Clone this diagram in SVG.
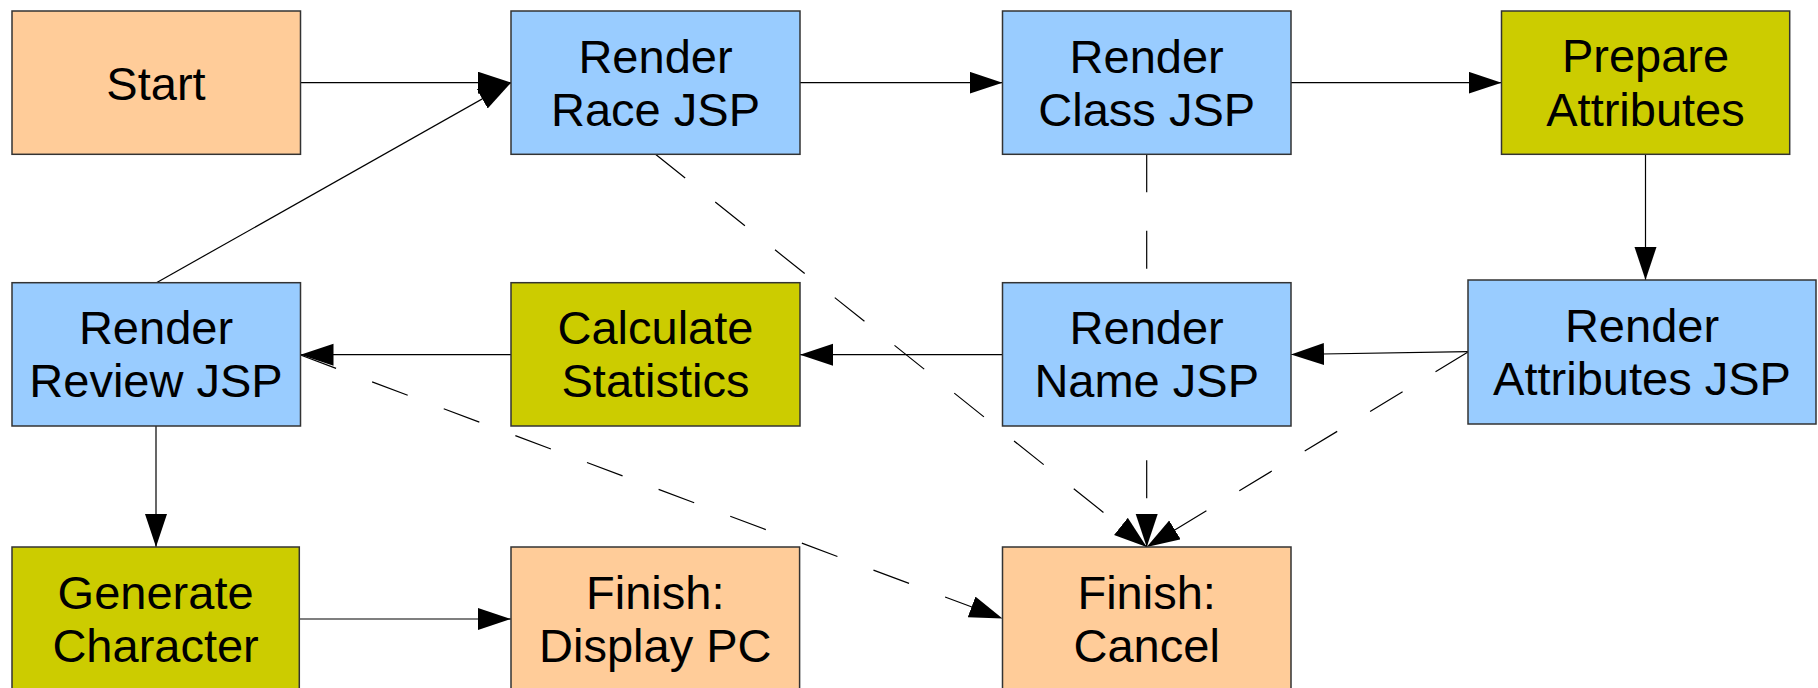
<svg xmlns="http://www.w3.org/2000/svg" width="1818" height="688" viewBox="0 0 1818 688">
<style>
.box{stroke:#333;stroke-width:1.5}
.orange{fill:#ffcc99}
.blue{fill:#99ccff}
.olive{fill:#cccc00}
text{font-family:"Liberation Sans",Arial,sans-serif;font-size:47px;fill:#000;text-anchor:middle}
.c{stroke:#000;stroke-width:1.2;fill:none;marker-end:url(#ah)}
.d{stroke-dasharray:38 38.5}
</style>
<defs>
<marker id="ah" markerUnits="userSpaceOnUse" markerWidth="34" markerHeight="23" refX="33" refY="11" orient="auto">
<path d="M0,0 L33,11 L0,22 z" fill="#000" stroke="none"/>
</marker>
</defs>
<rect width="1818" height="688" fill="#fff"/>
<g id="connectors">
<line class="c" x1="300.5" y1="82.7" x2="511" y2="82.7"/>
<line class="c" x1="800" y1="82.7" x2="1002.5" y2="82.7"/>
<line class="c" x1="1291" y1="82.7" x2="1501.5" y2="82.7"/>
<line class="c" x1="1645.5" y1="154.3" x2="1645.5" y2="280"/>
<line class="c" x1="1468" y1="351.7" x2="1291" y2="354.5"/>
<line class="c" x1="1002.5" y1="354.7" x2="800" y2="354.7"/>
<line class="c" x1="511" y1="354.7" x2="300.5" y2="354.7"/>
<line class="c" x1="156" y1="283" x2="511" y2="82.7"/>
<line class="c" x1="156" y1="426" x2="156" y2="547"/>
<line class="c" x1="299.5" y1="619" x2="511" y2="619"/>
<line class="c d" x1="655.5" y1="154.3" x2="1146.7" y2="547"/>
<line class="c d" x1="1146.7" y1="154.3" x2="1146.7" y2="547"/>
<line class="c d" x1="300.5" y1="355" x2="1002.5" y2="618.5"/>
<line class="c d" x1="1468" y1="352" x2="1146.7" y2="547"/>
</g>
<g id="start"><rect class="box orange" x="12" y="11" width="288.5" height="143.3"/><text x="156" y="99.5">Start</text></g>
<g id="race"><rect class="box blue" x="511" y="11" width="289" height="143.3"/><text x="655.5" y="72.5">Render</text><text x="655.5" y="125.5">Race JSP</text></g>
<g id="class"><rect class="box blue" x="1002.5" y="11" width="288.5" height="143.3"/><text x="1146.7" y="72.5">Render</text><text x="1146.7" y="125.5">Class JSP</text></g>
<g id="prepare"><rect class="box olive" x="1501.5" y="11" width="288.2" height="143.3"/><text x="1645.5" y="72">Prepare</text><text x="1645.5" y="126">Attributes</text></g>
<g id="attributes"><rect class="box blue" x="1468" y="280" width="348" height="144"/><text x="1642" y="341.7">Render</text><text x="1642" y="395">Attributes JSP</text></g>
<g id="name"><rect class="box blue" x="1002.5" y="282.7" width="288.5" height="143.3"/><text x="1146.7" y="344.3">Render</text><text x="1146.7" y="396.7">Name JSP</text></g>
<g id="calc"><rect class="box olive" x="511" y="282.7" width="289" height="143.3"/><text x="655.5" y="344.3">Calculate</text><text x="655.5" y="396.7">Statistics</text></g>
<g id="review"><rect class="box blue" x="12" y="282.7" width="288.5" height="143.3"/><text x="156" y="344.3">Render</text><text x="156" y="396.7">Review JSP</text></g>
<g id="generate"><rect class="box olive" x="12" y="547" width="287.3" height="143.3"/><text x="155.6" y="608.5">Generate</text><text x="155.6" y="662">Character</text></g>
<g id="display"><rect class="box orange" x="511" y="547" width="288.6" height="143.3"/><text x="655.3" y="608.5">Finish:</text><text x="655.3" y="662">Display PC</text></g>
<g id="cancel"><rect class="box orange" x="1002.5" y="547" width="288.5" height="143.3"/><text x="1146.7" y="608.5">Finish:</text><text x="1146.7" y="662">Cancel</text></g>
</svg>
